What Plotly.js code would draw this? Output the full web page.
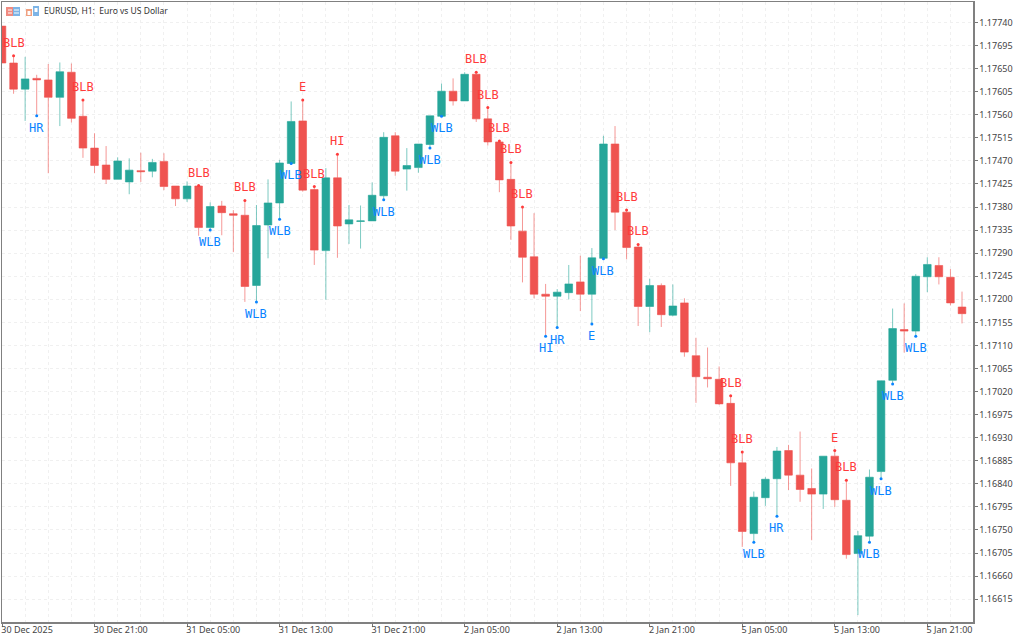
<!DOCTYPE html>
<html><head><meta charset="utf-8">
<script src="https://cdn.plot.ly/plotly-3.0.1.min.js"></script>
<style>html,body{margin:0;padding:0;background:#fff}#chart{width:1024px;height:639px}</style>
</head><body><div id="chart"></div>
<script>
const opens=[1.17733,1.17661,1.17610,1.17631,1.17628,1.17594,1.17643,1.17557,1.17495,1.17462,1.17434,1.17429,1.17451,1.17450,1.17469,1.17421,1.17396,1.17421,1.17340,1.17382,1.17367,1.17364,1.17227,1.17345,1.17388,1.17465,1.17548,1.17414,1.17295,1.17437,1.17347,1.17352,1.17353,1.17402,1.17519,1.17454,1.17457,1.17502,1.17557,1.17606,1.17587,1.17639,1.17552,1.17507,1.17434,1.17333,1.17283,1.17210,1.17206,1.17213,1.17234,1.17210,1.17280,1.17503,1.17370,1.17302,1.17186,1.17227,1.17169,1.17193,1.17090,1.17048,1.17044,1.16997,1.16881,1.16743,1.16813,1.16850,1.16905,1.16857,1.16831,1.16820,1.16894,1.16808,1.16704,1.16738,1.16864,1.17042,1.17141,1.17138,1.17244,1.17266,1.17243,1.17185];
const highs=[1.17733,1.17675,1.17673,1.17638,1.17659,1.17662,1.17660,1.17589,1.17524,1.17499,1.17477,1.17475,1.17486,1.17474,1.17485,1.17421,1.17430,1.17422,1.17389,1.17392,1.17374,1.17393,1.17384,1.17434,1.17472,1.17586,1.17589,1.17420,1.17456,1.17483,1.17384,1.17383,1.17428,1.17526,1.17526,1.17495,1.17503,1.17558,1.17621,1.17631,1.17643,1.17643,1.17574,1.17509,1.17467,1.17380,1.17368,1.17230,1.17220,1.17267,1.17285,1.17300,1.17519,1.17538,1.17374,1.17307,1.17240,1.17231,1.17229,1.17202,1.17125,1.17106,1.17069,1.17012,1.16902,1.16825,1.16853,1.16912,1.16916,1.16942,1.16870,1.16894,1.16905,1.16847,1.16748,1.16868,1.17041,1.17182,1.17192,1.17249,1.17282,1.17282,1.17259,1.17215];
const lows=[1.17661,1.17601,1.17548,1.17558,1.17446,1.17538,1.17545,1.17476,1.17446,1.17425,1.17434,1.17405,1.17429,1.17438,1.17413,1.17382,1.17390,1.17324,1.17335,1.17325,1.17292,1.17195,1.17195,1.17280,1.17356,1.17465,1.17410,1.17267,1.17199,1.17281,1.17308,1.17299,1.17353,1.17394,1.17441,1.17412,1.17447,1.17495,1.17557,1.17578,1.17587,1.17546,1.17500,1.17409,1.17316,1.17233,1.17202,1.17128,1.17145,1.17200,1.17177,1.17152,1.17279,1.17335,1.17278,1.17148,1.17136,1.17146,1.17167,1.17088,1.16998,1.17028,1.16994,1.16836,1.16717,1.16726,1.16797,1.16777,1.16828,1.16805,1.16730,1.16791,1.16795,1.16694,1.16584,1.16726,1.16850,1.17035,1.17096,1.17128,1.17214,1.17229,1.17188,1.17153];
const closes=[1.17661,1.17610,1.17630,1.17628,1.17594,1.17644,1.17553,1.17495,1.17461,1.17434,1.17470,1.17452,1.17449,1.17467,1.17420,1.17396,1.17421,1.17340,1.17381,1.17369,1.17364,1.17225,1.17344,1.17388,1.17466,1.17547,1.17413,1.17296,1.17437,1.17343,1.17355,1.17353,1.17403,1.17516,1.17450,1.17461,1.17503,1.17558,1.17606,1.17587,1.17639,1.17552,1.17507,1.17433,1.17343,1.17282,1.17210,1.17206,1.17214,1.17230,1.17210,1.17281,1.17503,1.17370,1.17301,1.17186,1.17227,1.17170,1.17187,1.17097,1.17049,1.17045,1.16996,1.16881,1.16747,1.16814,1.16849,1.16904,1.16857,1.16829,1.16820,1.16894,1.16809,1.16702,1.16739,1.16853,1.17041,1.17143,1.17138,1.17245,1.17268,1.17244,1.17193,1.17172];

const tickIndex=[0,8,16,24,32,40,48,56,64,72,80];
const tickLabels=["30 Dec 2025","30 Dec 21:00","31 Dec 05:00","31 Dec 13:00","31 Dec 21:00","2 Jan 05:00","2 Jan 13:00","2 Jan 21:00","5 Jan 05:00","5 Jan 13:00","5 Jan 21:00"];

const bearIndex=[1,7,17,21,26,27,29,41,42,43,44,45,54,55,63,64,72,73];
const bearLabels=["BLB","BLB","BLB","BLB","E","BLB","HI","BLB","BLB","BLB","BLB","BLB","BLB","BLB","BLB","BLB","E","BLB"];
const bullIndex=[3,18,22,24,25,33,37,38,47,48,51,52,65,67,75,76,77,79];
const bullLabels=["HR","WLB","WLB","WLB","WLB","WLB","WLB","WLB","HI","HR","E","WLB","WLB","HR","WLB","WLB","WLB","WLB"];

const titleText="EURUSD, H1:  Euro vs US Dollar";
const GREEN="#26A69A",RED="#EF5350",LABEL_RED="#FF3B3B",LABEL_BLUE="#0A84FF";
const index=opens.map((_,i)=>i);
const W=1024,H=639,mL=2,mR=51,mT=2,mB=17;
const labelFont=c=>({family:'"DejaVu Sans Mono",monospace',size:12,color:c});
const annotations=[
  ...bearIndex.map((k,i)=>({x:k,y:highs[k],text:bearLabels[i],showarrow:false,yshift:13,yanchor:'middle',xanchor:'center',font:labelFont(LABEL_RED)})),
  ...bullIndex.map((k,i)=>({x:k,y:lows[k],text:bullLabels[i],showarrow:false,yshift:-12,yanchor:'middle',xanchor:'center',font:labelFont(LABEL_BLUE)}))
];
const pxX=x=>(x-mL)/(W-mL-mR), pxY=y=>1-(y-mT)/(H-mT-mB);
const box=(x0,y0,x1,y1,fill)=>({type:'rect',xref:'paper',yref:'paper',layer:'above',x0:pxX(x0),x1:pxX(x1),y0:pxY(y0),y1:pxY(y1),fillcolor:fill,line:{width:0}});
const shapes=[
  box(6,7,13,16,'#F08A80'),box(13,7,20,16,'#7DB4E6'),
  box(8,9.5,12,10.5,'#fff'),box(8,12.5,12,13.5,'#fff'),box(14,9.5,19,10.5,'#fff'),box(14,12.5,19,13.5,'#fff'),
  box(26,9,32,16,'#F0A080'),box(27.5,11,30.5,15,'#fff'),box(33,6,39,16,'#7DB4E6'),box(34.5,8,37.5,12,'#fff')
];
const data=[
 {type:'candlestick',x:index,open:opens,high:highs,low:lows,close:closes,
  increasing:{fillcolor:GREEN,line:{color:'rgba(38,166,154,0.6)',width:1}},
  decreasing:{fillcolor:RED,line:{color:'rgba(239,83,80,0.6)',width:1}},
  whiskerwidth:0,hoverinfo:'skip',showlegend:false},
 {type:'scatter',mode:'markers',x:bearIndex,y:bearIndex.map(k=>highs[k]),marker:{size:3,color:LABEL_RED},hoverinfo:'skip',showlegend:false},
 {type:'scatter',mode:'markers',x:bullIndex,y:bullIndex.map(k=>lows[k]),marker:{size:3,color:LABEL_BLUE},hoverinfo:'skip',showlegend:false}
];
const tickFont={family:'"Noto Sans",sans-serif',size:9,color:'#444'};
const layout={
 width:W,height:H,paper_bgcolor:'#fff',plot_bgcolor:'#fff',showlegend:false,boxgap:0.34,boxgroupgap:0,
 margin:{l:mL,r:mR,t:mT,b:mB,pad:0},
 title:{text:titleText,x:44/W,xanchor:'left',y:1-11/H,yanchor:'middle',font:{family:'"Noto Sans",sans-serif',size:8.5,color:'#333'}},
 xaxis:{type:'linear',range:[0,83.95],rangeslider:{visible:false},tickmode:'array',tickvals:tickIndex,ticktext:tickLabels,
  ticks:'outside',ticklen:3,tickcolor:'#777',tickfont:tickFont,ticklabelposition:'outside right',ticklabelshift:-2,ticklabelstandoff:-1,showline:true,mirror:true,linecolor:'#808080',linewidth:1.5,
  showgrid:true,gridcolor:'#f0f0f0',griddash:'dot',gridwidth:1,zeroline:false,
  minor:{dtick:2,tick0:0,showgrid:true,gridcolor:'#f0f0f0',griddash:'dot',gridwidth:1,ticks:''}},
 yaxis:{range:[1.165705,1.1778],side:'right',tick0:1.16615,dtick:0.00045,tickformat:'.5f',ticks:'outside',ticklen:3,tickcolor:'#777',tickfont:tickFont,
  showline:true,mirror:true,linecolor:'#808080',linewidth:1.5,showgrid:true,gridcolor:'#f0f0f0',griddash:'dot',gridwidth:1,zeroline:false},
 annotations,shapes,dragmode:false
};
Plotly.newPlot('chart',data,layout,{staticPlot:true,displayModeBar:false});
</script></body></html>
